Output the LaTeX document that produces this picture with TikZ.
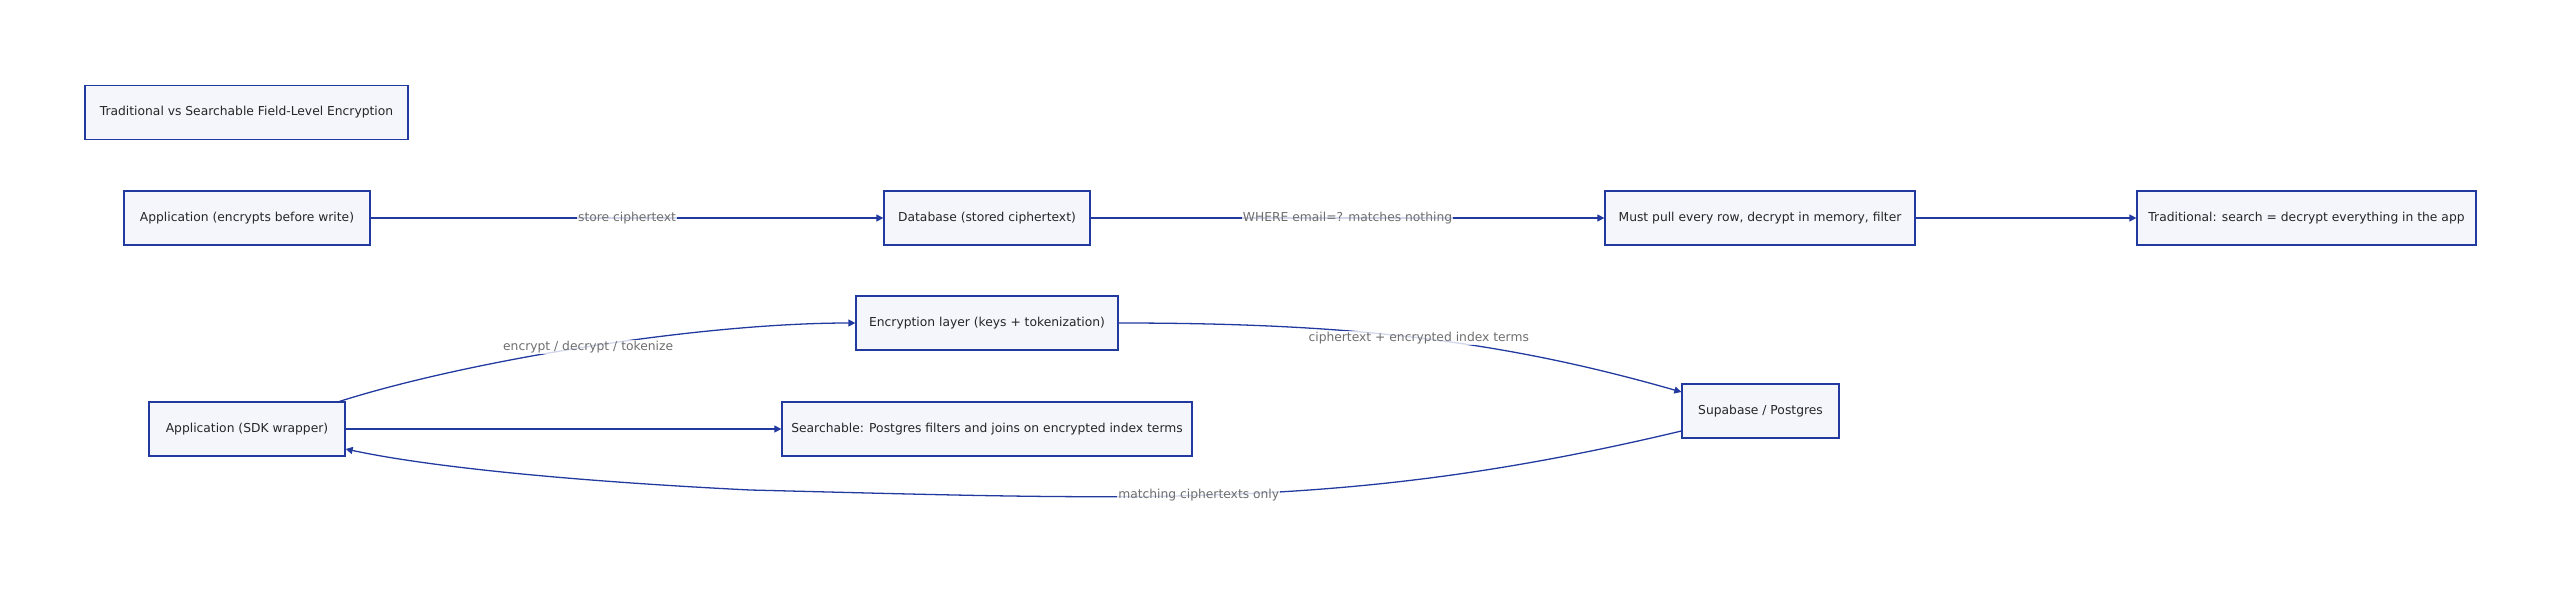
\documentclass[tikz,border=0pt]{standalone}
\usepackage{fontspec}
\setmainfont{DejaVu Sans}
\usetikzlibrary{arrows.meta}
\definecolor{bd}{HTML}{2239A0}
\definecolor{fl}{HTML}{F4F6FC}
\definecolor{lb}{HTML}{6E6E6E}
\begin{document}
\begin{tikzpicture}[x=0.03cm,y=-0.03cm,
 box/.style={draw=bd,fill=fl,line width=1.1pt,inner sep=0pt,font=\fontsize{10.5}{12}\selectfont,text=black!85},
 arr/.style={draw=bd,line width=1.1pt,-{Triangle[length=6pt,width=6pt]}},
 lab/.style={font=\fontsize{10.5}{12}\selectfont,text=lb,fill=white,fill opacity=0.8,text opacity=1,inner sep=1pt}]
\useasboundingbox (0,0) rectangle (2560,591);
\node[box,minimum width=323*0.03cm,minimum height=54*0.03cm] (t) at (246.5,112.5) {Traditional vs Searchable Field-Level Encryption};
\node[box,minimum width=246*0.03cm,minimum height=54*0.03cm] (a1) at (247,218) {Application (encrypts before write)};
\node[box,minimum width=206*0.03cm,minimum height=54*0.03cm] (db) at (987,218) {Database (stored ciphertext)};
\node[box,minimum width=310*0.03cm,minimum height=54*0.03cm] (mp) at (1760,218) {Must pull every row, decrypt in memory, filter};
\node[box,minimum width=339*0.03cm,minimum height=54*0.03cm] (tr) at (2306.5,218) {Traditional: search = decrypt everything in the app};
\node[box,minimum width=262*0.03cm,minimum height=54*0.03cm] (enc) at (987,323) {Encryption layer (keys + tokenization)};
\node[box,minimum width=196*0.03cm,minimum height=54*0.03cm] (sdk) at (247,429) {Application (SDK wrapper)};
\node[box,minimum width=410*0.03cm,minimum height=54*0.03cm] (se) at (987,429) {Searchable: Postgres filters and joins on encrypted index terms};
\node[box,minimum width=157*0.03cm,minimum height=54*0.03cm] (sp) at (1760.5,411) {Supabase / Postgres};
\draw[arr] (a1) -- node[lab]{store ciphertext} (db);
\draw[arr] (db) -- node[lab]{WHERE email=? matches nothing} (mp);
\draw[arr] (mp) -- (tr);
\draw[arr] (sdk.north east)++(-6,0) .. controls (470,360) and (700,323) .. node[lab,pos=0.5]{encrypt / decrypt / tokenize} (enc.west);
\draw[arr] (enc.east) .. controls (1350,323) and (1500,340) .. node[lab,pos=0.5]{ciphertext + encrypted index terms} (sp.north west|-0,392);
\draw[arr] (sdk) -- (se);
\draw[arr] (sp.west|-0,431) .. controls (1350,510) and (1150,500) .. node[lab,pos=0.55]{matching ciphertexts only} (750,490) .. controls (550,480) and (420,465) .. (sdk.east|-0,449);
\end{tikzpicture}
\end{document}
